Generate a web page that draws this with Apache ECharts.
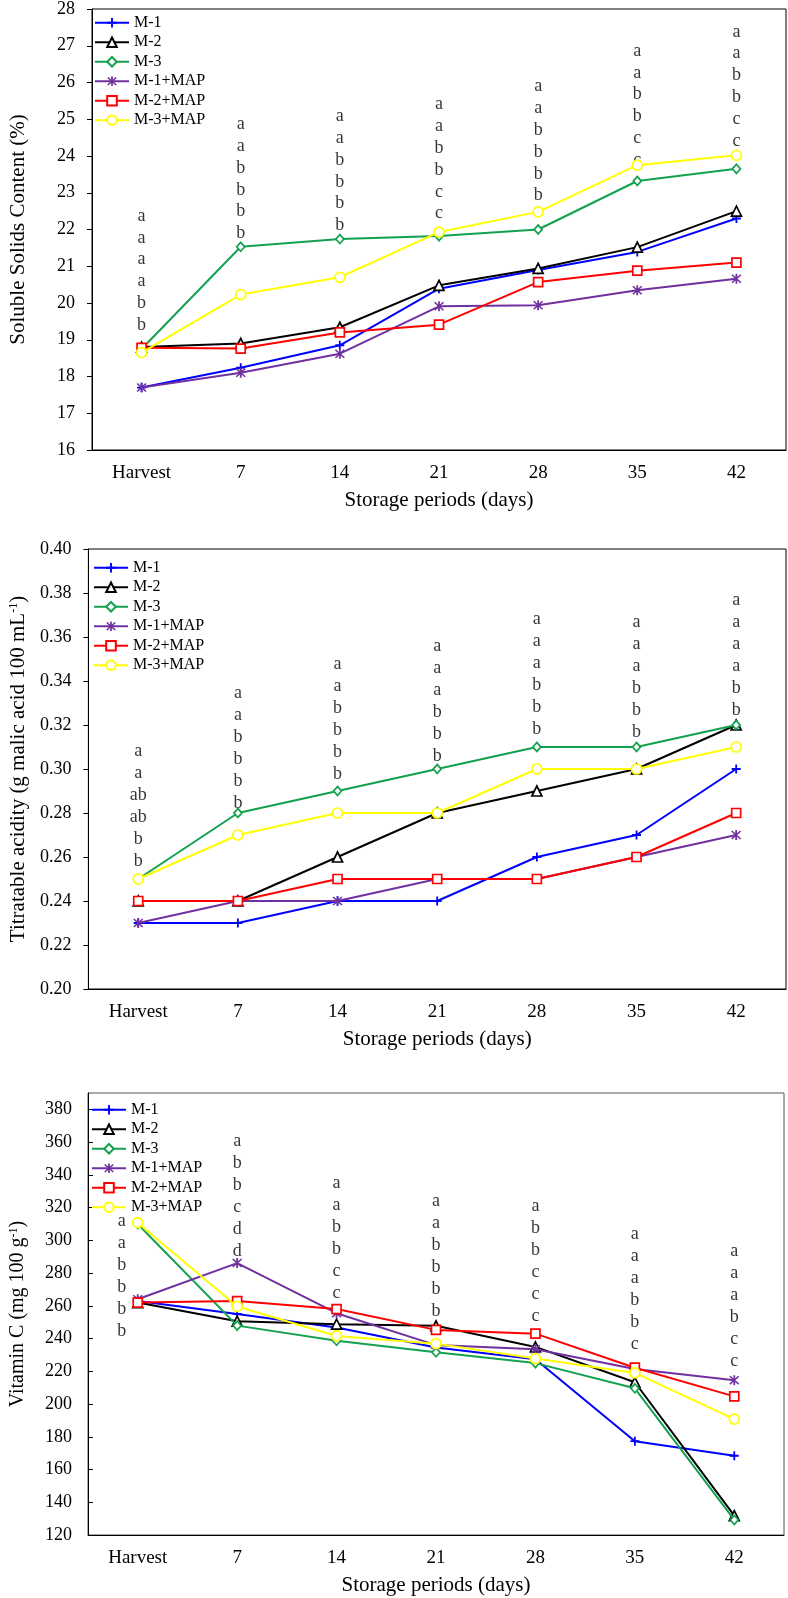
<!DOCTYPE html>
<html>
<head>
<meta charset="utf-8">
<title>Quality changes during storage</title>
<script src="https://cdn.jsdelivr.net/npm/echarts@6/dist/echarts.min.js"></script>
<style>
  html, body { margin: 0; padding: 0; background: #fff; }
  #main { width: 788px; height: 1598px; }
</style>
</head>
<body>
<div id="main"></div>
<script>
var days = ['Harvest', '7', '14', '21', '28', '35', '42'];
var names = ['M-1', 'M-2', 'M-3', 'M-1+MAP', 'M-2+MAP', 'M-3+MAP'];

// soluble solids content (%)
var sscM1 = [17.7, 18.24, 18.85, 20.39, 20.9, 21.39, 22.3];
var sscM2 = [18.8, 18.9, 19.34, 20.48, 20.94, 21.52, 22.5];
var sscM3 = [18.75, 21.53, 21.74, 21.82, 22.0, 23.32, 23.65];
var sscM1Map = [17.7, 18.1, 18.62, 19.91, 19.94, 20.35, 20.66];
var sscM2Map = [18.78, 18.76, 19.2, 19.41, 20.57, 20.88, 21.1];
var sscM3Map = [18.65, 20.23, 20.7, 21.93, 22.48, 23.75, 24.02];
var sscLetters = [
  ['a', 'a', 'a', 'a', 'b', 'b'],
  ['a', 'a', 'b', 'b', 'b', 'b'],
  ['a', 'a', 'b', 'b', 'b', 'b'],
  ['a', 'a', 'b', 'b', 'c', 'c'],
  ['a', 'a', 'b', 'b', 'b', 'b'],
  ['a', 'a', 'b', 'b', 'c', 'c'],
  ['a', 'a', 'b', 'b', 'c', 'c']
];
var sscLetterY = [19.09, 21.58, 21.8, 22.12, 22.61, 23.58, 24.1];

// titratable acidity (g malic acid 100 mL-1)
var taM1 = [0.23, 0.23, 0.24, 0.24, 0.26, 0.27, 0.30];
var taM2 = [0.24, 0.24, 0.26, 0.28, 0.29, 0.30, 0.32];
var taM3 = [0.25, 0.28, 0.29, 0.30, 0.31, 0.31, 0.32];
var taM1Map = [0.23, 0.24, 0.24, 0.25, 0.25, 0.26, 0.27];
var taM2Map = [0.24, 0.24, 0.25, 0.25, 0.25, 0.26, 0.28];
var taM3Map = [0.25, 0.27, 0.28, 0.28, 0.30, 0.30, 0.31];
var taLetters = [
  ['a', 'a', 'ab', 'ab', 'b', 'b'],
  ['a', 'a', 'b', 'b', 'b', 'b'],
  ['a', 'a', 'b', 'b', 'b', 'b'],
  ['a', 'a', 'a', 'b', 'b', 'b'],
  ['a', 'a', 'a', 'b', 'b', 'b'],
  ['a', 'a', 'a', 'b', 'b', 'b'],
  ['a', 'a', 'a', 'a', 'b', 'b']
];
var taLetterY = [0.2527, 0.279, 0.2923, 0.3006, 0.313, 0.3115, 0.3215];

// vitamin C (mg 100 g-1)
var vcM1 = [263, 255, 246.7, 234.5, 227.3, 177.3, 168.4];
var vcM2 = [262, 250.6, 248.8, 247.8, 234.9, 213.3, 131.8];
var vcM3 = [310, 247.9, 238.6, 231.6, 225, 209.6, 129.2];
var vcM1Map = [264, 286.1, 255.5, 236, 233.5, 221.4, 214.5];
var vcM2Map = [262, 262.9, 258, 245.3, 243, 222.2, 204.7];
var vcM3Map = [310.8, 259.6, 241.6, 236.9, 227.8, 219, 190.8];
var vcLetters = [
  ['a', 'a', 'b', 'b', 'b', 'b'],
  ['a', 'b', 'b', 'c', 'd', 'd'],
  ['a', 'a', 'b', 'b', 'c', 'c'],
  ['a', 'a', 'b', 'b', 'b', 'b'],
  ['a', 'b', 'b', 'c', 'c', 'c'],
  ['a', 'a', 'a', 'b', 'b', 'c'],
  ['a', 'a', 'a', 'b', 'c', 'c']
];
var vcLetterY = [237.6, 286.2, 260.5, 249.5, 246.8, 229.5, 219];

var serif = '"Liberation Serif", "Times New Roman", serif';
var colors = ['#0000ff', '#000000', '#13a14f', '#7030a0', '#ff0000', '#ffff00'];
var plusPath = 'path://M4,0H6V4H10V6H6V10H4V6H0V4H4Z';
var starPath = 'path://M4.2,0H5.8V10H4.2Z M1.5,0.5L9.5,8.5L8.5,9.5L0.5,1.5Z M8.5,0.5L9.5,1.5L1.5,9.5L0.5,8.5Z';
var marks = [
  { symbol: plusPath, size: 9, hollow: false },
  { symbol: 'triangle', size: 10, hollow: true },
  { symbol: 'diamond', size: [8, 9], hollow: true },
  { symbol: starPath, size: 10, hollow: false },
  { symbol: 'rect', size: 9, hollow: true },
  { symbol: 'circle', size: 10, hollow: true }
];

function lineSeries(g, k, data) {
  var m = marks[k];
  return {
    type: 'line', name: names[k], xAxisIndex: g, yAxisIndex: g,
    data: data, symbol: m.symbol, symbolSize: m.size, showAllSymbol: true,
    lineStyle: { color: colors[k], width: 2 },
    itemStyle: m.hollow ? { color: '#fff', borderColor: colors[k], borderWidth: 1.7 }
                        : { color: colors[k], borderWidth: 0 },
    z: 3 + k
  };
}

function letterSeries(g, letters, ys, lh, firstShift) {
  return {
    type: 'scatter', xAxisIndex: g, yAxisIndex: g, silent: true,
    symbolSize: 1, itemStyle: { color: 'rgba(0,0,0,0)' }, z: 2,
    data: ys.map(function (y, i) {
      var item = { value: [i, y] };
      if (i === 0 && firstShift) item.label = { offset: [firstShift, 0] };
      return item;
    }),
    label: {
      show: true, position: 'top', distance: 0, color: '#000',
      fontFamily: serif, fontSize: 18, lineHeight: lh,
      formatter: function (p) { return letters[p.dataIndex].join('\n'); }
    }
  };
}

function xAxis(g) {
  return {
    type: 'category', gridIndex: g, data: days, boundaryGap: true,
    name: 'Storage periods (days)', nameLocation: 'middle', nameGap: 40,
    nameTextStyle: { fontFamily: serif, fontSize: 21, color: '#000' },
    axisLine: { lineStyle: { color: '#000', width: 1 } },
    axisTick: { inside: true, length: 5, interval: 0, lineStyle: { color: '#000' } },
    axisLabel: { interval: 0, margin: 14, fontFamily: serif, fontSize: 19, color: '#000' },
    splitLine: { show: false }
  };
}

function yAxis(g, o) {
  return {
    type: 'value', gridIndex: g, min: o.min, max: o.max, interval: o.interval,
    name: o.name, nameLocation: 'middle', nameGap: o.gap,
    nameTextStyle: {
      fontFamily: serif, fontSize: o.nameSize, color: '#000',
      rich: { s: { fontFamily: serif, fontSize: 12, color: '#000', verticalAlign: 'top' } }
    },
    axisLine: { show: true, lineStyle: { color: '#000', width: 1 } },
    axisTick: { show: true, inside: o.inside, length: 5, lineStyle: { color: '#000' } },
    axisLabel: {
      margin: o.margin, fontFamily: serif, fontSize: 18, color: '#000',
      formatter: o.fmt, showMaxLabel: o.showMax
    },
    splitLine: { show: false }
  };
}

function legend(g, left, top) {
  return {
    data: names, orient: 'vertical', left: left, top: top,
    itemWidth: 34, itemHeight: 12, itemGap: 0,
    textStyle: { fontFamily: serif, fontSize: 16, color: '#000', lineHeight: 19.5 },
    selectedMode: false
  };
}

var grid = { show: true, borderColor: '#000', borderWidth: 1, backgroundColor: 'transparent' };

var chart = echarts.init(document.getElementById('main'));
var option = {
  animation: false,
  backgroundColor: '#fff',
  grid: [
    Object.assign({ left: 83, top: 7, right: 2, height: 443 }, grid),
    Object.assign({ left: 81, top: 549, right: 2, height: 440 }, grid),
    Object.assign({ left: 79, top: 1093, right: 4, height: 442 }, grid, { borderColor: '#555' })
  ],
  legend: [legend(0, 89, 8), legend(1, 88, 553), legend(2, 86, 1095)],
  xAxis: [xAxis(0), xAxis(1), xAxis(2)],
  yAxis: [
    yAxis(0, { min: 16, max: 28, interval: 1, name: 'Soluble Solids Content (%)', gap: 63, nameSize: 21,
               inside: false, margin: 17, showMax: true }),
    yAxis(1, { min: 0.2, max: 0.4, interval: 0.02, name: 'Titratable acidity (g malic acid 100 mL{s|-1})',
               gap: 59, nameSize: 21, inside: false, margin: 17, showMax: true,
               fmt: function (v) { return v.toFixed(2); } }),
    yAxis(2, { min: 120, max: 390, interval: 20, name: 'Vitamin C (mg 100 g{s|-1})', gap: 60, nameSize: 20,
               inside: true, margin: 16, showMax: false })
  ],
  series: [
    lineSeries(0, 0, sscM1), lineSeries(0, 1, sscM2), lineSeries(0, 2, sscM3),
    lineSeries(0, 3, sscM1Map), lineSeries(0, 4, sscM2Map), lineSeries(0, 5, sscM3Map),
    letterSeries(0, sscLetters, sscLetterY, 21.8),
    lineSeries(1, 0, taM1), lineSeries(1, 1, taM2), lineSeries(1, 2, taM3),
    lineSeries(1, 3, taM1Map), lineSeries(1, 4, taM2Map), lineSeries(1, 5, taM3Map),
    letterSeries(1, taLetters, taLetterY, 22),
    lineSeries(2, 0, vcM1), lineSeries(2, 1, vcM2), lineSeries(2, 2, vcM3),
    lineSeries(2, 3, vcM1Map), lineSeries(2, 4, vcM2Map), lineSeries(2, 5, vcM3Map),
    letterSeries(2, vcLetters, vcLetterY, 22, -16)
  ]
};
chart.setOption(option);
</script>
</body>
</html>
